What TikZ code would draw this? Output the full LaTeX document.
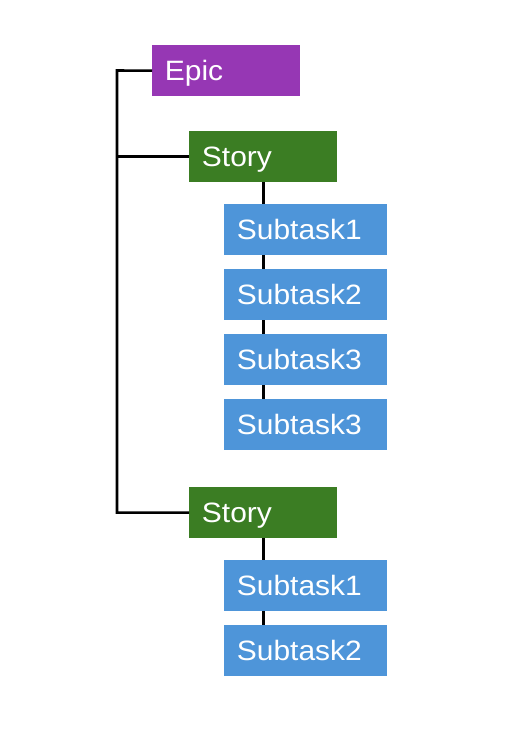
\documentclass[tikz,border=0pt]{standalone}
\usepackage{fontspec}
\setmainfont{Liberation Sans}[FakeStretch=1.07]
\definecolor{epicc}{HTML}{9637B4}
\definecolor{storyc}{HTML}{3B7D23}
\definecolor{taskc}{HTML}{4E95D9}
\begin{document}
\begin{tikzpicture}[x=0.75pt,y=-0.75pt,
  box/.style={anchor=north west, rectangle, inner xsep=9.5pt, inner ysep=0pt,
    text width=92pt, align=left, minimum height=38pt, text height=15pt, text depth=0pt,
    text=white, font=\fontsize{21}{25}\selectfont},
  tbox/.style={box, text width=103.25pt},
  conn/.style={line width=1.9pt, black}]
\useasboundingbox (0,0) rectangle (518,755);
\fill[white] (0,0) rectangle (518,755);
\node[box, fill=epicc] (epic) at (152,45) {Epic};
\node[box, fill=storyc] (s1) at (189,131) {Story};
\node[tbox, fill=taskc] (a1) at (224,204) {Subtask1};
\node[tbox, fill=taskc] (a2) at (224,269) {Subtask2};
\node[tbox, fill=taskc] (a3) at (224,334) {Subtask3};
\node[tbox, fill=taskc] (a4) at (224,399) {Subtask3};
\node[box, fill=storyc] (s2) at (189,487) {Story};
\node[tbox, fill=taskc] (b1) at (224,560) {Subtask1};
\node[tbox, fill=taskc] (b2) at (224,625) {Subtask2};
\coordinate (t) at (117,70.5);
\draw[conn] (epic.west) -- (t) |- (s2.west);
\draw[conn] (s1.west) -- (s1.west -| t);
\draw[conn] (s1.south) -- (s1.south |- a1.north);
\draw[conn] (a1.south -| s1.south) -- (a2.north -| s1.south);
\draw[conn] (a2.south -| s1.south) -- (a3.north -| s1.south);
\draw[conn] (a3.south -| s1.south) -- (a4.north -| s1.south);
\draw[conn] (s2.south) -- (s2.south |- b1.north);
\draw[conn] (b1.south -| s2.south) -- (b2.north -| s2.south);
\end{tikzpicture}
\end{document}
